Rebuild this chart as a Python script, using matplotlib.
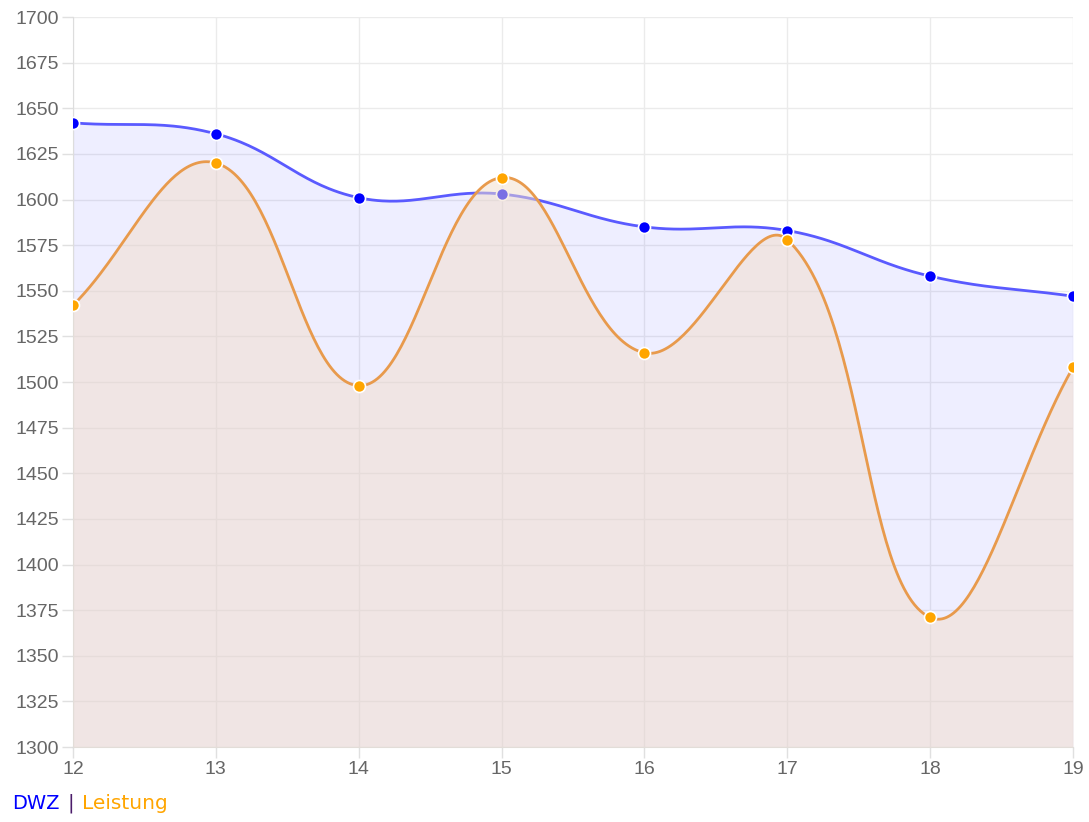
import numpy as np
import matplotlib
matplotlib.use("Agg")
import matplotlib.pyplot as plt

labels = ["12", "13", "14", "15", "16", "17", "18", "19"]
dwz = [1642, 1636, 1601, 1603, 1585, 1583, 1558, 1547]
leistung = [1542, 1620, 1498, 1612, 1516, 1578, 1371, 1508]

W, H = 1089, 822
fig = plt.figure(figsize=(W / 100, H / 100), dpi=100)
ax = fig.add_axes([73 / W, 75 / H, 1000 / W, 730 / H])
ymin, ymax = 1300, 1700
xs = np.arange(len(labels), dtype=float)
ax.set_xlim(0, len(labels) - 1)
ax.set_ylim(ymin, ymax)

# pixel scales for Chart.js-like spline
sx = 1000 / (len(labels) - 1)
sy = 730 / (ymax - ymin)


def spline(xv, yv, t=0.4):
    P = np.column_stack([np.asarray(xv) * sx, np.asarray(yv, float) * sy])
    n = len(P)
    cps = []
    for i in range(n):
        prev = P[i - 1] if i > 0 else P[i]
        nxt = P[i + 1] if i < n - 1 else P[i]
        cur = P[i]
        d01 = np.hypot(*(cur - prev))
        d12 = np.hypot(*(nxt - cur))
        tot = d01 + d12
        s01 = d01 / tot if tot else 0
        s12 = d12 / tot if tot else 0
        fa, fb = t * s01, t * s12
        cps.append((cur - fa * (nxt - prev), cur + fb * (nxt - prev)))
    out = []
    tt = np.linspace(0, 1, 60)[:, None]
    for i in range(n - 1):
        p0 = P[i]
        p1 = cps[i][1]
        p2 = cps[i + 1][0]
        p3 = P[i + 1]
        seg = ((1 - tt) ** 3) * p0 + 3 * ((1 - tt) ** 2) * tt * p1 + 3 * (1 - tt) * tt ** 2 * p2 + tt ** 3 * p3
        out.append(seg if i == 0 else seg[1:])
    out = np.vstack(out)
    return out[:, 0] / sx, out[:, 1] / sy


bx, by = spline(xs, dwz)
ox, oy = spline(xs, leistung)

ax.fill_between(bx, by, ymin, color=(0.0, 0.0, 1.0), alpha=0.067, lw=0, zorder=2)
ax.plot(bx, by, color="#5a5aff", lw=2, zorder=3, solid_capstyle="round")
ax.scatter(xs, dwz, s=75, color="#0000ff", edgecolor="white", linewidth=1.2, zorder=4)

ax.fill_between(ox, oy, ymin, color=(242 / 255, 222 / 255, 202 / 255), alpha=0.5, lw=0, zorder=5)
ax.plot(ox, oy, color="#e89a4c", lw=2, zorder=6, solid_capstyle="round")
ax.scatter(xs, leistung, s=75, color="#ffa500", edgecolor="white", linewidth=1.2, zorder=7)

gridc = "#ebebeb"
ax.set_yticks(np.arange(ymin, ymax + 1, 25))
ax.set_xticks(xs)
ax.set_xticklabels(labels)
ax.grid(True, color=gridc, lw=1, zorder=0)
ax.set_axisbelow(True)
for s in ["top", "right"]:
    ax.spines[s].set_visible(False)
for s in ["left", "bottom"]:
    ax.spines[s].set_color("#dddddd")
ax.tick_params(axis="both", colors="#e0e0e0", length=8, width=1, labelcolor="#666666",
               labelsize=14)
ax.tick_params(axis="y", pad=2)
ax.tick_params(axis="x", pad=2)
for lab in ax.get_xticklabels() + ax.get_yticklabels():
    lab.set_fontfamily("Liberation Sans")

fig.text(12 / W, 1 - 803 / H, "DWZ", color="#0000ff", fontsize=14, va="center", ha="left")
fig.text(67 / W, 1 - 803 / H, "|", color="#4b1c6a", fontsize=14, va="center", ha="left")
fig.text(82 / W, 1 - 803 / H, "Leistung", color="#ffa500", fontsize=14.5, va="center", ha="left")

fig.savefig("out.png", dpi=100)
